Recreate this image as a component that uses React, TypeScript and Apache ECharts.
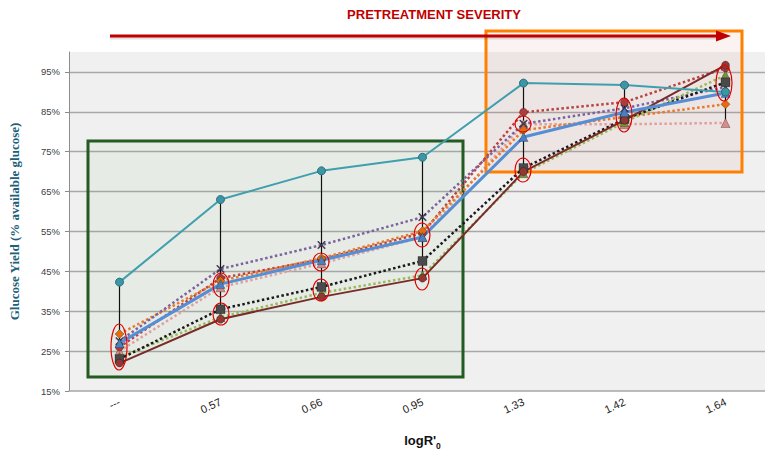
import React, { useEffect, useRef } from "react";
import * as echarts from "echarts";

const categories = ["---", "0.57", "0.66", "0.95", "1.33", "1.42", "1.64"];
const yTicksMin = 15;
const yTicksMax = 100;
const yTickStep = 10;

const teal = [42.3, 63.0, 70.2, 73.6, 92.2, 91.7, 90.0];
const blue = [27.0, 41.8, 47.8, 53.6, 78.7, 84.9, 89.7];
const brown = [22.0, 33.0, 38.6, 43.3, 70.0, 82.9, 96.7];
const blackDots = [23.0, 35.5, 41.1, 47.6, 70.9, 83.2, 92.4];
const greenDots = [23.5, 33.5, 39.6, 44.0, 69.6, 82.4, 94.2];
const purpleDots = [27.5, 45.6, 51.6, 58.6, 82.0, 85.9, 91.2];
const orangeDots = [29.3, 42.6, 48.3, 55.1, 80.4, 83.7, 86.9];
const redDots = [26.0, 43.3, 48.0, 54.6, 84.9, 87.4, 96.0];
const pinkDots = [25.0, 41.0, 47.0, 53.6, 81.9, 81.9, 82.2];

const allSeries = [teal, blue, brown, blackDots, greenDots, purpleDots, orangeDots, redDots, pinkDots];

const X_SYMBOL =
  "path://M0,1 L1,0 L5,4 L9,0 L10,1 L6,5 L10,9 L9,10 L5,6 L1,10 L0,9 L4,5 Z";

const ellipses: [number, number, number, number][] = [
  [119, 347, 8, 23],
  [221, 285, 8, 12],
  [221, 314, 8, 11],
  [321, 262, 8, 9],
  [321, 290, 8, 11],
  [422, 235, 8, 12],
  [422, 279, 7, 11],
  [523, 124, 8, 8],
  [523, 170, 8, 12],
  [624, 115, 8, 17],
  [724, 83, 8, 18],
];

const FONT = "'Liberation Sans', Arial, sans-serif";

function dotted(name: string, data: number[], color: string, symbol: string, symbolColor: string, size: number) {
  return {
    name,
    type: "line",
    data,
    clip: false,
    symbol,
    symbolSize: size,
    lineStyle: { color, width: 2.5, type: [2.5, 2.5] },
    itemStyle: { color: symbolColor, borderColor: "rgba(0,0,0,0.35)", borderWidth: 0.8 },
    z: 3,
  };
}

export default function App() {
  const ref = useRef<HTMLDivElement>(null);
  useEffect(() => {
    if (!ref.current) return;
    const chart = echarts.init(ref.current, null, { renderer: "svg" });
    const ranges = categories.map((_, i) => {
      const vals = allSeries.map((s) => s[i]);
      return [i, Math.min(...vals), Math.max(...vals)];
    });
    const option: any = {
      animation: false,
      backgroundColor: "#ffffff",
      grid: {
        left: 69,
        top: 52,
        right: 0,
        bottom: 67,
        show: true,
        backgroundColor: "#f0f0f0",
        borderWidth: 0,
      },
      xAxis: {
        type: "category",
        data: categories,
        boundaryGap: true,
        axisTick: { show: false },
        axisLine: { lineStyle: { color: "#a6a6a6", width: 1.5 } },
        axisLabel: {
          rotate: 25,
          margin: 10,
          fontSize: 11,
          fontFamily: FONT,
          color: "#222",
        },
        name: "{a|logR'}{b|0}",
        nameLocation: "middle",
        nameGap: 39,
        nameTextStyle: {
          rich: {
            a: { fontSize: 13, fontWeight: "bold", fontFamily: FONT, color: "#111", lineHeight: 20, verticalAlign: "middle" },
            b: { fontSize: 8.5, fontWeight: "bold", fontFamily: FONT, color: "#111", lineHeight: 10, verticalAlign: "bottom" },
          },
        },
      },
      yAxis: {
        type: "value",
        min: yTicksMin,
        max: yTicksMax,
        interval: yTickStep,
        axisLine: { show: true, lineStyle: { color: "#8c8c8c", width: 1 } },
        axisTick: { show: true, length: 4, lineStyle: { color: "#8c8c8c" } },
        axisLabel: {
          formatter: "{value}%",
          showMaxLabel: false,
          margin: 9,
          fontSize: 9.5,
          fontFamily: FONT,
          color: "#404040",
        },
        splitLine: { show: true, showMaxLine: false, showMinLine: false, lineStyle: { color: "#a8a8a8", width: 1.4 } },
        name: "Glucose Yield (% available glucose)",
        nameLocation: "middle",
        nameGap: 48,
        nameTextStyle: {
          fontFamily: "'Liberation Serif', 'DejaVu Serif', serif",
          fontWeight: "bold",
          fontSize: 13,
          color: "#215e78",
        },
      },
      graphic: [
        {
          type: "rect",
          z: 1,
          shape: { x: 88, y: 141, width: 375, height: 236 },
          style: { fill: "rgba(120,170,80,0.07)", stroke: "#235b23", lineWidth: 3 },
        },
        {
          type: "rect",
          z: 1,
          shape: { x: 486, y: 31, width: 256, height: 141 },
          style: { fill: "rgba(192,80,77,0.07)", stroke: "#ff8000", lineWidth: 3 },
        },
        {
          type: "rect",
          z: 5,
          shape: { x: 110, y: 36.5, width: 612, height: 3 },
          style: { fill: "rgba(0,0,0,0.12)" },
        },
        {
          type: "rect",
          z: 6,
          shape: { x: 110, y: 34.5, width: 612, height: 3 },
          style: { fill: "#c00000" },
        },
        {
          type: "polygon",
          z: 6,
          shape: { points: [[716, 30.5], [731, 36], [716, 41.5]] },
          style: { fill: "#c00000" },
        },
        {
          type: "text",
          z: 5,
          x: 434,
          y: 14,
          style: {
            text: "PRETREATMENT SEVERITY",
            align: "center",
            verticalAlign: "middle",
            fill: "#c00000",
            fontFamily: FONT,
            fontWeight: "bold",
            fontSize: 13,
          },
        },
        ...ellipses.map(([cx, cy, rx, ry]) => ({
          type: "ellipse",
          z: 10,
          shape: { cx, cy, rx, ry },
          style: { fill: "none", stroke: "#e00000", lineWidth: 1.2 },
        })),
      ],
      series: [
        {
          type: "custom",
          z: 2,
          data: ranges,
          encode: { x: 0, y: [1, 2] },
          renderItem: (params: any, api: any) => {
            const i = api.value(0);
            const lo = api.coord([i, api.value(1)]);
            const hi = api.coord([i, api.value(2)]);
            return {
              type: "line",
              shape: { x1: lo[0], y1: lo[1], x2: hi[0], y2: hi[1] },
              style: { stroke: "#111", lineWidth: 1.2 },
            };
          },
        },
        dotted("pink", pinkDots, "#e0a09e", "triangle", "#d98b89", 9),
        dotted("red", redDots, "#b94341", "circle", "#b03c3a", 8),
        dotted("orange", orangeDots, "#e8792b", "diamond", "#e46c0a", 9),
        dotted("purple", purpleDots, "#7d62a0", X_SYMBOL, "#3f3a55", 8),
        dotted("green", greenDots, "#9bbb59", "triangle", "#77933c", 9),
        dotted("black", blackDots, "#1a1a1a", "rect", "#4a4a4a", 9),
        {
          name: "brown",
          type: "line",
          data: brown,
          clip: false,
          symbol: "circle",
          symbolSize: 8,
          lineStyle: { color: "#772c2a", width: 2 },
          itemStyle: { color: "#943634", borderColor: "rgba(0,0,0,0.35)", borderWidth: 0.8 },
          z: 3,
        },
        {
          name: "blue",
          type: "line",
          data: blue,
          clip: false,
          symbol: "triangle",
          symbolSize: 9,
          lineStyle: { color: "#558ed5", width: 3 },
          itemStyle: { color: "#4a7fc0", borderColor: "rgba(0,0,0,0.3)", borderWidth: 0.8 },
          z: 3,
        },
        {
          name: "teal",
          type: "line",
          data: teal,
          clip: false,
          symbol: "circle",
          symbolSize: 8,
          lineStyle: { color: "#3f9fae", width: 2 },
          itemStyle: { color: "#3b96a6", borderColor: "#2a6f7c", borderWidth: 1 },
          z: 3,
        },
      ],
    };
    chart.setOption(option);
    return () => chart.dispose();
  }, []);
  return (
    <div
      ref={ref}
      style={{ position: "fixed", left: 0, top: 0, width: 776, height: 458 }}
    />
  );
}
